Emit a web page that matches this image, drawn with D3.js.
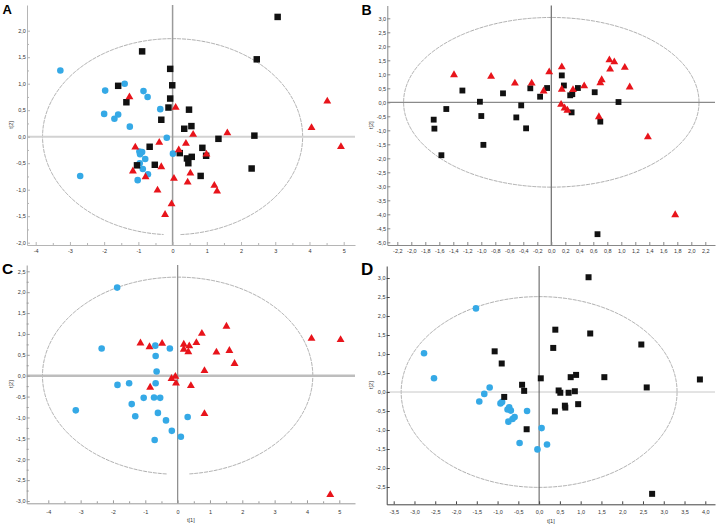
<!DOCTYPE html>
<html>
<head>
<meta charset="utf-8">
<script src="https://cdn.jsdelivr.net/npm/d3@7"></script>
<style>
  html, body { margin: 0; padding: 0; background: #fff; }
  svg { display: block; }
  text { font-family: "Liberation Sans", Arial, sans-serif; }
</style>
</head>
<body>
<svg id="chart" width="716" height="528"></svg>
<script>
// ---------------- DATA ----------------
const panelLetters = ["A", "B", "C", "D"];

const aXTicks = [-4, -3, -2, -1, 0, 1, 2, 3, 4, 5];
const aYTicks = [2, 1.5, 1, 0.5, 0, -0.5, -1, -1.5, -2];
const bXTicks = [-2.2, -2.0, -1.8, -1.6, -1.4, -1.2, -1.0, -0.8, -0.6, -0.4, -0.2, 0, 0.2, 0.4, 0.6, 0.8, 1.0, 1.2, 1.4, 1.6, 1.8, 2.0, 2.2];
const bYTicks = [3, 2.5, 2, 1.5, 1, 0.5, 0, -0.5, -1, -1.5, -2, -2.5, -3, -3.5, -4, -4.5, -5];
const cXTicks = [-4, -3, -2, -1, 0, 1, 2, 3, 4, 5];
const cYTicks = [2.5, 2, 1.5, 1, 0.5, 0, -0.5, -1, -1.5, -2, -2.5, -3];
const dXTicks = [-3.5, -3, -2.5, -2, -1.5, -1, -0.5, 0, 0.5, 1, 1.5, 2, 2.5, 3, 3.5, 4];
const dYTicks = [3, 2.5, 2, 1.5, 1, 0.5, 0, -0.5, -1, -1.5, -2, -2.5];

// Hotelling ellipse radii [t1, t2]
const aEllipse = [3.8, 1.85];
const bEllipse = [2.11, 3.03];
const cEllipse = [4.18, 2.36];
const dEllipse = [3.32, 2.51];

const aSquares = [[3.07,2.26],[2.46,1.46],[-0.89,1.61],[-0.07,1.28],[-0.01,0.97],[-1.59,0.96],[-0.07,0.72],[-1.35,0.65],[-0.12,0.55],[0.48,0.51],[-0.33,0.32],[0.34,0.15],[0.55,0.20],[1.34,-0.04],[2.39,0.02],[-0.67,-0.19],[0.87,-0.21],[0.21,-0.31],[0.42,-0.41],[0.56,-0.38],[0.98,-0.36],[0.46,-0.50],[-0.52,-0.53],[-1.04,-0.54],[0.82,-0.74],[2.31,-0.60]];
const aCircles = [[-3.28,1.25],[-1.40,1.00],[-1.97,0.87],[-0.85,0.86],[-0.73,0.75],[-0.36,0.52],[-2.00,0.43],[-1.59,0.42],[-1.70,0.34],[-1.25,0.19],[-0.17,-0.02],[0.01,-0.32],[-0.97,-0.28],[-0.89,-0.29],[-0.95,-0.33],[-0.80,-0.42],[-0.96,-0.50],[-0.87,-0.61],[-0.72,-0.71],[-1.02,-0.82],[-2.70,-0.74]];
const aTriangles = [[4.52,0.67],[4.06,0.17],[4.92,-0.19],[-1.26,0.75],[0.09,0.55],[0.60,0.04],[1.60,0.07],[-0.39,-0.11],[0.39,-0.13],[-1.09,-0.20],[0.18,-0.25],[0.99,-0.33],[-1.16,-0.65],[-0.33,-0.57],[0.52,-0.69],[-0.79,-0.76],[0.04,-0.79],[0.44,-0.86],[-0.44,-1.01],[1.22,-0.92],[1.30,-1.03],[-0.03,-1.27],[-0.22,-1.47]];

const bSquares = [[-1.27,0.42],[-1.02,0.02],[-0.69,0.32],[-0.30,0.50],[-0.06,0.51],[-0.16,0.20],[0.15,0.96],[0.18,0.60],[0.27,0.25],[0.30,0.29],[0.38,0.51],[0.62,0.36],[0.96,0.01],[0.29,-0.36],[0.70,-0.69],[-0.43,-0.11],[-0.50,-0.54],[-0.36,-0.93],[-1.00,-0.49],[-1.50,-0.24],[-1.68,-0.62],[-1.67,-0.94],[-0.97,-1.52],[-1.57,-1.89],[0.66,-4.71]];
const bTriangles = [[-1.39,0.98],[-0.86,0.92],[-0.52,0.68],[-0.28,0.68],[-0.11,0.40],[-0.03,1.08],[0.15,1.26],[0.15,0.46],[0.31,0.45],[0.47,0.58],[0.70,0.69],[0.72,0.80],[0.83,1.51],[0.90,1.44],[0.84,1.18],[1.05,1.24],[1.12,0.54],[0.14,-0.08],[0.19,-0.21],[0.23,-0.29],[0.68,-0.52],[1.38,-1.24],[1.77,-4.02]];

const cCircles = [[-1.87,2.11],[-2.35,0.65],[-0.69,0.72],[-0.24,0.65],[-0.68,0.47],[-0.65,0.10],[-0.68,-0.18],[-1.50,-0.18],[-1.86,-0.22],[-3.15,-0.83],[-1.42,-0.68],[-1.05,-0.53],[-0.73,-0.52],[-0.54,-0.53],[-1.31,-0.97],[-0.61,-0.89],[-0.36,-1.07],[-0.18,-1.32],[0.10,-1.46],[-0.71,-1.54],[0.31,-0.99]];
const cTriangles = [[-1.15,0.78],[-0.87,0.69],[-0.48,0.77],[0.19,0.75],[0.19,0.63],[0.36,0.71],[0.33,0.57],[0.58,0.79],[0.75,1.01],[1.51,1.18],[1.20,0.56],[1.60,0.60],[1.76,0.29],[0.83,0.12],[4.14,0.89],[5.04,0.86],[-0.07,-0.02],[-0.19,-0.07],[-0.05,-0.18],[-0.85,-0.28],[0.41,-0.24],[0.83,-0.91],[4.72,-2.85]];

const dSquares = [[1.19,3.02],[0.39,1.64],[1.23,1.54],[0.34,1.16],[2.46,1.25],[-1.07,1.07],[-0.90,0.75],[0.04,0.36],[-0.41,0.19],[-0.36,0.03],[-0.84,-0.13],[0.47,0.04],[0.51,-0.02],[0.71,-0.02],[0.76,0.39],[0.89,0.45],[0.86,0.02],[1.57,0.39],[2.59,0.12],[3.87,0.33],[0.94,-0.32],[0.62,-0.36],[0.63,-0.41],[0.38,-0.51],[-0.30,-0.98],[2.72,-2.68]];
const dCircles = [[-1.52,2.20],[-2.77,1.02],[-2.53,0.36],[-1.19,0.12],[-1.32,-0.05],[-1.44,-0.25],[-0.93,-0.30],[-0.89,-0.26],[-0.72,-0.40],[-0.76,-0.46],[-0.68,-0.49],[-0.29,-0.50],[-0.59,-0.66],[-0.64,-0.71],[-0.74,-0.78],[0.06,-0.95],[-0.47,-1.34],[-0.04,-1.51],[0.19,-1.38]];

// ---------------- DRAWING ----------------
const svg = d3.select("#chart");
const BLUE = "#35a9e6", RED = "#e8141b", BLACK = "#111";

function calScale(v1, p1, v2, p2, lo, hi) {
  const s = d3.scaleLinear().domain([v1, v2]).range([p1, p2]);
  return d3.scaleLinear().domain([s.invert(lo), s.invert(hi)]).range([lo, hi]);
}
function fmt(dec) {
  return v => {
    const a = Math.abs(v) < 1e-9 ? 0 : v;
    const s = Math.abs(a).toFixed(dec).replace(".", ",");
    return (a < 0 ? "-" : "") + s;
  };
}
function midTicks(ticks) {
  const out = [];
  for (let i = 0; i < ticks.length - 1; i++) out.push((ticks[i] + ticks[i + 1]) / 2);
  return out;
}

function drawPanel(cfg) {
  const g = svg.append("g");
  const x = calScale(cfg.xCal[0], cfg.xCal[1], cfg.xCal[2], cfg.xCal[3], cfg.left, cfg.right);
  const y = calScale(cfg.yCal[0], cfg.yCal[1], cfg.yCal[2], cfg.yCal[3], cfg.bottom, cfg.top);

  // ellipse
  const [rx, ry] = cfg.ellipse;
  const pts = d3.range(0, 721).map(i => {
    const t = i / 720 * 2 * Math.PI;
    return [rx * Math.cos(t), ry * Math.sin(t)];
  });
  const line = d3.line()
    .x(d => x(d[0])).y(d => y(d[1]))
    .defined(d => !(cfg.gap && d[1] < 0 && d[0] > cfg.gap[0] && d[0] < cfg.gap[1]));
  g.append("path").attr("d", line(pts))
    .attr("fill", "none").attr("stroke", "#8a8a8a").attr("stroke-width", 0.7)
    .attr("stroke-dasharray", "4,0.9");

  // zero lines
  g.append("line").attr("x1", cfg.left).attr("x2", cfg.right)
    .attr("y1", y(0)).attr("y2", y(0))
    .attr("stroke", cfg.hColor).attr("stroke-width", cfg.hWidth);
  g.append("line").attr("x1", x(0)).attr("x2", x(0))
    .attr("y1", cfg.top).attr("y2", cfg.bottom)
    .attr("stroke", cfg.vColor).attr("stroke-width", cfg.vWidth);

  // axes
  const yAxis = d3.axisLeft(y).tickValues(cfg.yTicks).tickFormat(fmt(1))
    .tickSizeInner(-3).tickSizeOuter(0).tickPadding(1.2);
  const xAxis = d3.axisBottom(x).tickValues(cfg.xTicks).tickFormat(fmt(cfg.xDec))
    .tickSizeInner(-3).tickSizeOuter(0).tickPadding(cfg.xPad);
  const ya = g.append("g").attr("transform", `translate(${cfg.left},0)`).call(yAxis);
  const xa = g.append("g").attr("transform", `translate(0,${cfg.bottom})`).call(xAxis);
  if (cfg.minor) {
    g.append("g").attr("transform", `translate(${cfg.left},0)`)
      .call(d3.axisLeft(y).tickValues(midTicks(cfg.yTicks)).tickFormat("").tickSizeInner(-2).tickSizeOuter(0))
      .call(s => s.select(".domain").remove())
      .selectAll("line").attr("stroke", cfg.axisColor);
    g.append("g").attr("transform", `translate(0,${cfg.bottom})`)
      .call(d3.axisBottom(x).tickValues(midTicks(cfg.xTicks)).tickFormat("").tickSizeInner(-2).tickSizeOuter(0))
      .call(s => s.select(".domain").remove())
      .selectAll("line").attr("stroke", cfg.axisColor);
  }
  [ya, xa].forEach(a => {
    a.select(".domain").attr("stroke", cfg.axisColor).attr("stroke-width", 1);
    a.selectAll(".tick line").attr("stroke", cfg.axisColor);
    a.selectAll(".tick text").attr("font-size", 5.5).attr("fill", "#333")
      .attr("font-family", "Liberation Sans, Arial, sans-serif");
  });

  // axis titles
  g.append("text").attr("transform", `translate(${cfg.left - 14},${(cfg.top + cfg.bottom) / 2}) rotate(-90)`)
    .attr("text-anchor", "middle").attr("font-size", 5.5).attr("fill", "#333").text("t[2]");
  if (cfg.showX) {
    g.append("text").attr("x", (cfg.left + cfg.right) / 2).attr("y", cfg.bottom + 19)
      .attr("text-anchor", "middle").attr("font-size", 5.5).attr("fill", "#333").text("t[1]");
  }

  // panel letter
  g.append("text").attr("x", cfg.letterPos[0]).attr("y", cfg.letterPos[1])
    .attr("font-size", cfg.letterSize).attr("font-weight", "bold").attr("fill", "#000")
    .text(cfg.letter);

  // points
  const sym = (type, size) => d3.symbol().type(type).size(size)();
  const draw = (data, type, size, color) => {
    g.append("g").selectAll("path").data(data).join("path")
      .attr("d", sym(type, size))
      .attr("transform", d => `translate(${x(d[0])},${y(d[1])})`)
      .attr("fill", color);
  };
  if (cfg.circles) draw(cfg.circles, d3.symbolCircle, 34, BLUE);
  if (cfg.squares) draw(cfg.squares, d3.symbolSquare, cfg.sqSize, BLACK);
  if (cfg.triangles) draw(cfg.triangles, d3.symbolTriangle, 27, RED);
}

drawPanel({
  letter: panelLetters[0], letterPos: [2.5, 14], letterSize: 13,
  left: 27, right: 355, top: 5, bottom: 245,
  xCal: [-4, 35.7, 5, 343.7], yCal: [2, 30.7, -2, 242.7],
  xTicks: aXTicks, yTicks: aYTicks, xDec: 0, xPad: 4.5, minor: true,
  ellipse: aEllipse, gap: [-0.25, 0.2],
  hColor: "#d2d2d2", hWidth: 2, vColor: "#9a9a9a", vWidth: 1.5, axisColor: "#b5b5b5",
  squares: aSquares, circles: aCircles, triangles: aTriangles, sqSize: 42, showX: false
});
drawPanel({
  letter: panelLetters[1], letterPos: [361.5, 15], letterSize: 14,
  left: 387.3, right: 715, top: 5.5, bottom: 245,
  xCal: [-2.2, 397.3, 2.2, 705.3], yCal: [3, 18.3, -5, 242.3],
  xTicks: bXTicks, yTicks: bYTicks, xDec: 1, xPad: 4.5, minor: false,
  ellipse: bEllipse, gap: null,
  hColor: "#8a8a8a", hWidth: 1.2, vColor: "#6a6a6a", vWidth: 1.2, axisColor: "#888",
  squares: bSquares, triangles: bTriangles, sqSize: 34, showX: false
});
drawPanel({
  letter: panelLetters[2], letterPos: [2, 274], letterSize: 15.5,
  left: 26.7, right: 355, top: 265, bottom: 503.3,
  xCal: [-4, 48.3, 5, 339.3], yCal: [2.5, 271.3, -3, 501],
  xTicks: cXTicks, yTicks: cYTicks, xDec: 0, xPad: 6.5, minor: true,
  ellipse: cEllipse, gap: [-0.32, 0.35],
  hColor: "#bdbdbd", hWidth: 2.5, vColor: "#909090", vWidth: 1.3, axisColor: "#9a9a9a",
  circles: cCircles, triangles: cTriangles, showX: true
});
drawPanel({
  letter: panelLetters[3], letterPos: [361, 274.5], letterSize: 17,
  left: 386.7, right: 715, top: 266, bottom: 504.3,
  xCal: [-3.5, 393.7, 4, 705.3], yCal: [3, 278, -2.5, 487],
  xTicks: dXTicks, yTicks: dYTicks, xDec: 1, xPad: 5.5, minor: false,
  ellipse: dEllipse, gap: null,
  hColor: "#c8c8c8", hWidth: 1, vColor: "#555", vWidth: 1, axisColor: "#444",
  squares: dSquares, circles: dCircles, sqSize: 36, showX: true
});
</script>
</body>
</html>
